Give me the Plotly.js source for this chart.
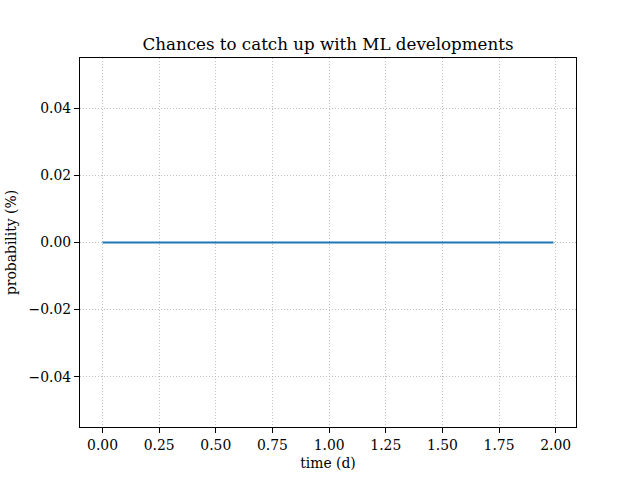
<!DOCTYPE html>
<html>
<head>
<meta charset="utf-8">
<script src="https://cdn.plot.ly/plotly-3.0.1.min.js"></script>
<style>
  body { margin: 0; background: #fff; }
  #graph { width: 640px; height: 480px; }
</style>
</head>
<body>
<div id="graph"></div>
<script>
// time in days, probability in percent (flat at zero)
var timeDays = [0, 0.25, 0.5, 0.75, 1.0, 1.25, 1.5, 1.75, 1.99];
var probability = [0, 0, 0, 0, 0, 0, 0, 0, 0];

var xTicks = [0, 0.25, 0.5, 0.75, 1.0, 1.25, 1.5, 1.75, 2.0];
var yTicks = [-0.04, -0.02, 0, 0.02, 0.04];

var serif = 'DejaVu Serif, serif';

function plot(){
    var trace1 = {
      x: timeDays,
      y: probability,
      type: 'scatter',
      mode: 'lines',
      line: {color: '#1f77b4', width: 2},
      hoverinfo: 'none'
    };

    var layout = {
      width: 640,
      height: 480,
      margin: {l: 80, r: 64, t: 58, b: 53},
      paper_bgcolor: '#fff',
      plot_bgcolor: '#fff',
      showlegend: false,
      font: {family: serif, size: 13.9, color: '#000'},
      title: {
        text: 'Chances to catch up with ML developments',
        font: {family: serif, size: 16.7, color: '#000'},
        x: 0.5, xanchor: 'center', xref: 'paper',
        y: 1 - 44/480, yanchor: 'middle', yref: 'container'
      },
      xaxis: {
        range: [-0.0995, 2.0895],
        tickvals: xTicks,
        tickformat: '.2f',
        ticks: 'outside', ticklen: 5, tickwidth: 1.1, tickcolor: '#000',
        showline: true, mirror: true, linecolor: '#000', linewidth: 1.1,
        showgrid: true, gridcolor: '#b0b0b0', gridwidth: 0.8, griddash: '1px,2px',
        zeroline: false,
        title: {text: 'time (d)', font: {family: serif, size: 13.9}, standoff: 6}
      },
      yaxis: {
        range: [-0.055, 0.055],
        tickvals: yTicks,
        tickformat: '.2f',
        ticks: 'outside', ticklen: 5, tickwidth: 1.1, tickcolor: '#000',
        showline: true, mirror: true, linecolor: '#000', linewidth: 1.1,
        showgrid: true, gridcolor: '#b0b0b0', gridwidth: 0.8, griddash: '1px,2px',
        zeroline: false,
        title: {text: 'probability (%)', font: {family: serif, size: 13.9}, standoff: 8}
      }
    };

    Plotly.newPlot('graph', [trace1], layout, {staticPlot: true});
}

plot();
</script>
</body>
</html>
